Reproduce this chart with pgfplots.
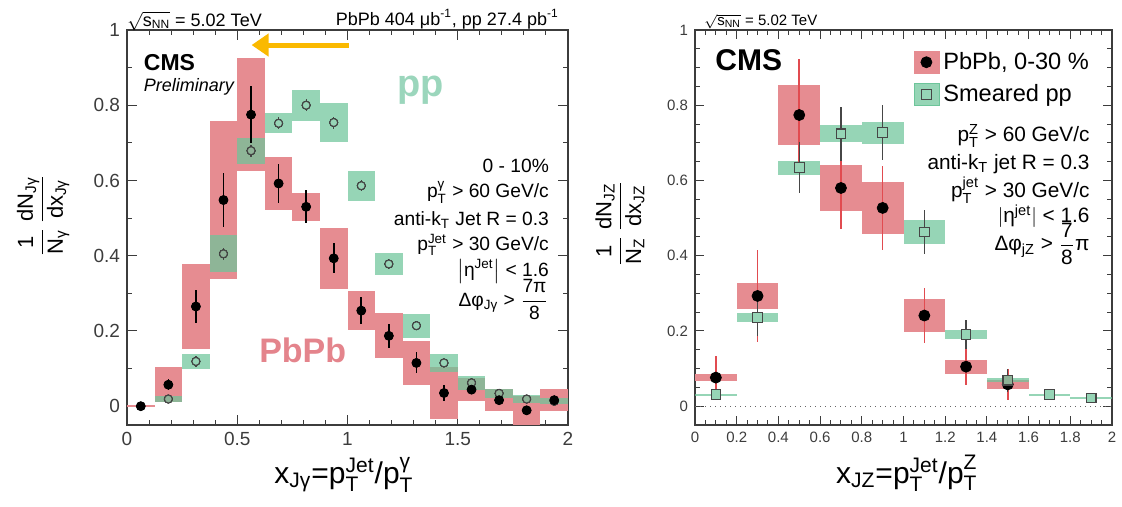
\documentclass[border=0pt]{standalone}
\usepackage{amsmath}
\usepackage{pgfplots}
\pgfplotsset{compat=1.18}
\usepackage{pgfplotstable}
\usepackage{fontspec}
\setmainfont{Liberation Sans}
\setsansfont{Liberation Sans}
\usetikzlibrary{arrows.meta}

\definecolor{redbox}{RGB}{230,140,145}
\definecolor{greenbox}{RGB}{109,197,154}
\definecolor{gbl}{RGB}{150,213,182}
\definecolor{mbl}{RGB}{143,178,151}
\definecolor{ppc}{RGB}{70,70,70}
\definecolor{redstat}{RGB}{225,75,80}
\definecolor{arrowc}{RGB}{250,185,0}
\definecolor{pptext}{RGB}{155,214,188}
\definecolor{pbtext}{RGB}{228,132,140}
\definecolor{axc}{RGB}{60,60,60}

\newcommand{\T}[1]{\text{#1}}

% left panel: x_Jgamma, PbPb 0-10%
\pgfplotstableread{
x y stat syst
0.0625 0.000 0.000 0.003
0.1875 0.057 0.015 0.047
0.3125 0.265 0.044 0.113
0.4375 0.548 0.073 0.211
0.5625 0.775 0.076 0.151
0.6875 0.592 0.052 0.071
0.8125 0.530 0.044 0.037
0.9375 0.393 0.040 0.081
1.0625 0.254 0.035 0.051
1.1875 0.187 0.031 0.060
1.3125 0.115 0.028 0.058
1.4375 0.035 0.020 0.068
1.5625 0.044 0.010 0.030
1.6875 0.016 0.010 0.029
1.8125 -0.011 0.010 0.038
1.9375 0.016 0.010 0.029
}\lpb
\pgfplotstableread{
x y stat syst c
0.1875 0.019 0.011 0.007 m
0.3125 0.119 0.014 0.020 g
0.4375 0.405 0.016 0.049 m
0.5625 0.679 0.016 0.034 m
0.6875 0.752 0.016 0.027 g
0.8125 0.800 0.016 0.041 g
0.9375 0.754 0.016 0.053 g
1.0625 0.586 0.015 0.040 g
1.1875 0.378 0.013 0.029 g
1.3125 0.214 0.012 0.032 g
1.4375 0.115 0.011 0.025 g
1.5625 0.062 0.011 0.018 m
1.6875 0.034 0.011 0.012 m
1.8125 0.019 0.011 0.011 m
1.9375 0.013 0.011 0.008 m
}\lpp
% right panel: x_JZ, PbPb 0-30%
\pgfplotstableread{
x y stat syst
0.1 0.076 0.057 0.009
0.3 0.293 0.122 0.034
0.5 0.774 0.150 0.081
0.7 0.580 0.110 0.061
0.9 0.527 0.111 0.068
1.1 0.241 0.074 0.044
1.3 0.105 0.049 0.019
1.5 0.058 0.042 0.011
}\rpb
\pgfplotstableread{
x y stat syst c
0.1 0.031 0.010 0.002 g
0.3 0.236 0.050 0.012 g
0.5 0.634 0.067 0.019 g
0.7 0.724 0.071 0.023 g
0.9 0.727 0.073 0.029 g
1.1 0.463 0.059 0.032 g
1.3 0.191 0.039 0.012 g
1.5 0.069 0.030 0.005 m
1.7 0.031 0.005 0.002 g
1.9 0.022 0.005 0.002 g
}\rpp

\pgfplotsset{
  cmsaxis/.style={
    scale only axis, xmin=0, xmax=2, ymin=-0.05, ymax=1,
    clip mode=individual,
    axis line style={axc, line width=0.6pt},
    tick style={axc, line width=0.5pt},
    /pgf/number format/assume math mode=true,
    ticklabel style={text=axc},
  },
  boxes/.style n args={3}{only marks, mark=none, forget plot,
    error bars/.cd, y dir=both, y explicit, error mark=none,
    error bar style={line width=#1, draw=#2, draw opacity=#3, line cap=butt}},
}

\begin{document}
\begin{tikzpicture}
\path[use as bounding box] (0,0) rectangle (561pt,253.5pt);

% ================= LEFT =================
\begin{axis}[cmsaxis,
  at={(63.5pt,41pt)}, anchor=south west,
  width=220.5pt, height=197.5pt,
  xtick={0,0.5,1,1.5,2}, minor x tick num=4,
  ytick={0,0.2,0.4,0.6,0.8,1}, minor y tick num=1,
  major tick length=5pt, minor tick length=2.6pt,
  ticklabel style={font=\fontsize{9.5}{11}\selectfont},
  xlabel={$\T{x}_{\T{Jγ}}\T{=p}_{\T{T}}^{\T{Jet}}\T{/p}_{\T{T}}^{\T{γ}}$},
  xlabel style={font=\fontsize{15}{17}\selectfont, at={(axis description cs:0.492,-0.147)}, anchor=base},
  ylabel={$\dfrac{\T{1}}{\T{N}_{\T{γ}}}\,\dfrac{\T{dN}_{\T{Jγ}}}{\T{dx}_{\T{Jγ}}}$},
  ylabel style={font=\fontsize{11}{13}\selectfont, at={(axis description cs:-0.19,0.53)}, anchor=center},
]
\addplot[boxes={13.78pt}{redbox}{1}] table[x=x, y=y, y error=syst] {\lpb};
\addplot[boxes={13.78pt}{greenbox}{0.72}] table[x=x, y=y, y error=syst] {\lpp};
\addplot[only marks, mark=none, forget plot, error bars/.cd, y dir=both, y explicit, error mark=none,
  error bar style={line width=0.8pt, black}] table[x=x, y=y, y error=stat] {\lpb};
\addplot[only marks, mark=none, forget plot, error bars/.cd, y dir=both, y explicit, error mark=none,
  error bar style={line width=0.6pt, ppc}] table[x=x, y=y, y error=stat] {\lpp};
\addplot[scatter, only marks, forget plot, scatter src=explicit symbolic, mark size=2.0pt,
  scatter/classes={g={mark=*, fill=gbl, draw=ppc, line width=0.55pt}, m={mark=*, fill=mbl, draw=ppc, line width=0.55pt}}]
  table[x=x, y=y, meta=c] {\lpp};
\addplot[only marks, forget plot, mark=*, mark size=2.25pt, black] table[x=x, y=y] {\lpb};

\draw[line width=2.5pt, arrowc, -{Triangle[length=8.5pt, width=11pt]}] (axis cs:1.005,0.96) -- (axis cs:0.565,0.96);

\node[anchor=west, inner sep=0pt, font=\fontsize{11.5}{13}\selectfont\bfseries] at (axis cs:0.075,0.914) {CMS};
\node[anchor=west, inner sep=0pt, font=\fontsize{9}{10}\selectfont\itshape] at (axis cs:0.075,0.848) {Preliminary};
\node[font=\fontsize{19}{21}\selectfont\bfseries, text=pptext] at (axis cs:1.333,0.84) {pp};
\node[font=\fontsize{17}{19}\selectfont\bfseries, text=pbtext] at (axis cs:0.797,0.149) {PbPb};

\begin{scope}[every node/.style={anchor=base east, font=\fontsize{9.6}{11}\selectfont, inner sep=0pt}]
\node at (axis cs:1.915,0.622) {0 - 10\%};
\node at (axis cs:1.915,0.554) {$\T{p}_{\T{T}}^{\T{γ}}$ > 60 GeV/c};
\node at (axis cs:1.915,0.481) {anti-k$_{\T{T}}$ Jet R = 0.3};
\node at (axis cs:1.915,0.414) {$\T{p}_{\T{T}}^{\T{Jet}}$ > 30 GeV/c};
\node at (axis cs:1.915,0.346) {$\left|\T{η}^{\T{Jet}}\right|$ < 1.6};
\node at (axis cs:1.915,0.266) {Δφ$_{\T{Jγ}}$ > $\dfrac{\T{7π}}{\T{8}}$};
\end{scope}

\node[anchor=base west, font=\fontsize{9}{10}\selectfont] at (axis description cs:-0.015,1.01) {$\sqrt{\T{s}_{\T{NN}}}$ = 5.02 TeV};
\node[anchor=base east, font=\fontsize{9}{10}\selectfont] at (axis description cs:0.995,1.012) {PbPb 404 μb$^{\T{-1}}$, pp 27.4 pb$^{\T{-1}}$};
\end{axis}

% ================= RIGHT =================
\begin{axis}[cmsaxis,
  at={(347.5pt,41pt)}, anchor=south west,
  width=208.5pt, height=197.5pt,
  xtick={0,0.2,0.4,0.6,0.8,1,1.2,1.4,1.6,1.8,2}, minor x tick num=3,
  ytick={0,0.2,0.4,0.6,0.8,1}, minor y tick num=3,
  major tick length=4.5pt, minor tick length=2.5pt,
  ticklabel style={font=\fontsize{7.5}{9}\selectfont},
  xlabel={$\T{x}_{\T{JZ}}\T{=p}_{\T{T}}^{\T{Jet}}\T{/p}_{\T{T}}^{\T{Z}}$},
  xlabel style={font=\fontsize{15}{17}\selectfont, at={(axis description cs:0.508,-0.147)}, anchor=base},
  ylabel={$\dfrac{\T{1}}{\T{N}_{\T{Z}}}\,\dfrac{\T{dN}_{\T{JZ}}}{\T{dx}_{\T{JZ}}}$},
  ylabel style={font=\fontsize{11}{13}\selectfont, at={(axis description cs:-0.18,0.51)}, anchor=center},
  legend style={at={(axis description cs:0.523,0.955)}, anchor=north west, draw=none, fill=none,
    inner sep=0pt, font=\fontsize{11.8}{13}\selectfont, row sep=2pt},
  legend cell align=left,
]
\draw[dotted, line width=0.5pt, black!60] (axis cs:0,0) -- (axis cs:2,0);
\addlegendimage{legend image code/.code={\fill[redbox] (0pt,-5.5pt) rectangle (12.5pt,5.5pt); \fill[black] (6.25pt,0pt) circle (2.75pt);}}
\addlegendentry{PbPb, 0-30 \%}
\addlegendimage{legend image code/.code={\fill[greenbox, fill opacity=0.72] (0pt,-5.5pt) rectangle (12.5pt,5.5pt); \draw[ppc, fill=gbl, line width=0.55pt] (3.85pt,-2.4pt) rectangle (8.65pt,2.4pt);}}
\addlegendentry{Smeared pp}

\addplot[boxes={20.85pt}{redbox}{1}] table[x=x, y=y, y error=syst] {\rpb};
\addplot[boxes={20.85pt}{greenbox}{0.72}] table[x=x, y=y, y error=syst] {\rpp};
\addplot[only marks, mark=none, forget plot, error bars/.cd, y dir=both, y explicit, error mark=none,
  error bar style={line width=0.8pt, redstat}] table[x=x, y=y, y error=stat] {\rpb};
\addplot[only marks, mark=none, forget plot, error bars/.cd, y dir=both, y explicit, error mark=none,
  error bar style={line width=0.7pt, ppc}] table[x=x, y=y, y error=stat] {\rpp};
\addplot[only marks, forget plot, mark=*, mark size=2.75pt, black] table[x=x, y=y] {\rpb};
\addplot[scatter, only marks, forget plot, scatter src=explicit symbolic, mark size=2.4pt,
  scatter/classes={g={mark=square*, fill=gbl, draw=ppc, line width=0.55pt}, m={mark=square*, fill=mbl, draw=ppc, line width=0.55pt}}]
  table[x=x, y=y, meta=c] {\rpp};

\node[anchor=west, inner sep=0pt, font=\fontsize{15}{17}\selectfont\bfseries] at (axis cs:0.096,0.919) {CMS};

\begin{scope}[every node/.style={anchor=base east, font=\fontsize{10.4}{12}\selectfont, inner sep=0pt}]
\node at (axis cs:1.894,0.704) {$\T{p}_{\T{T}}^{\T{Z}}$ > 60 GeV/c};
\node at (axis cs:1.894,0.629) {anti-k$_{\T{T}}$ jet R = 0.3};
\node at (axis cs:1.894,0.555) {$\T{p}_{\T{T}}^{\T{jet}}$ > 30 GeV/c};
\node at (axis cs:1.894,0.488) {$|\T{η}^{\T{jet}}|$ < 1.6};
\node at (axis cs:1.894,0.413) {Δφ$_{\T{jZ}}$ > $\dfrac{\T{7}}{\T{8}}\T{π}$};
\end{scope}

\node[anchor=base west, font=\fontsize{7.5}{9}\selectfont] at (axis description cs:0.005,1.012) {$\sqrt{\T{s}_{\T{NN}}}$ = 5.02 TeV};
\end{axis}
\end{tikzpicture}
\end{document}
